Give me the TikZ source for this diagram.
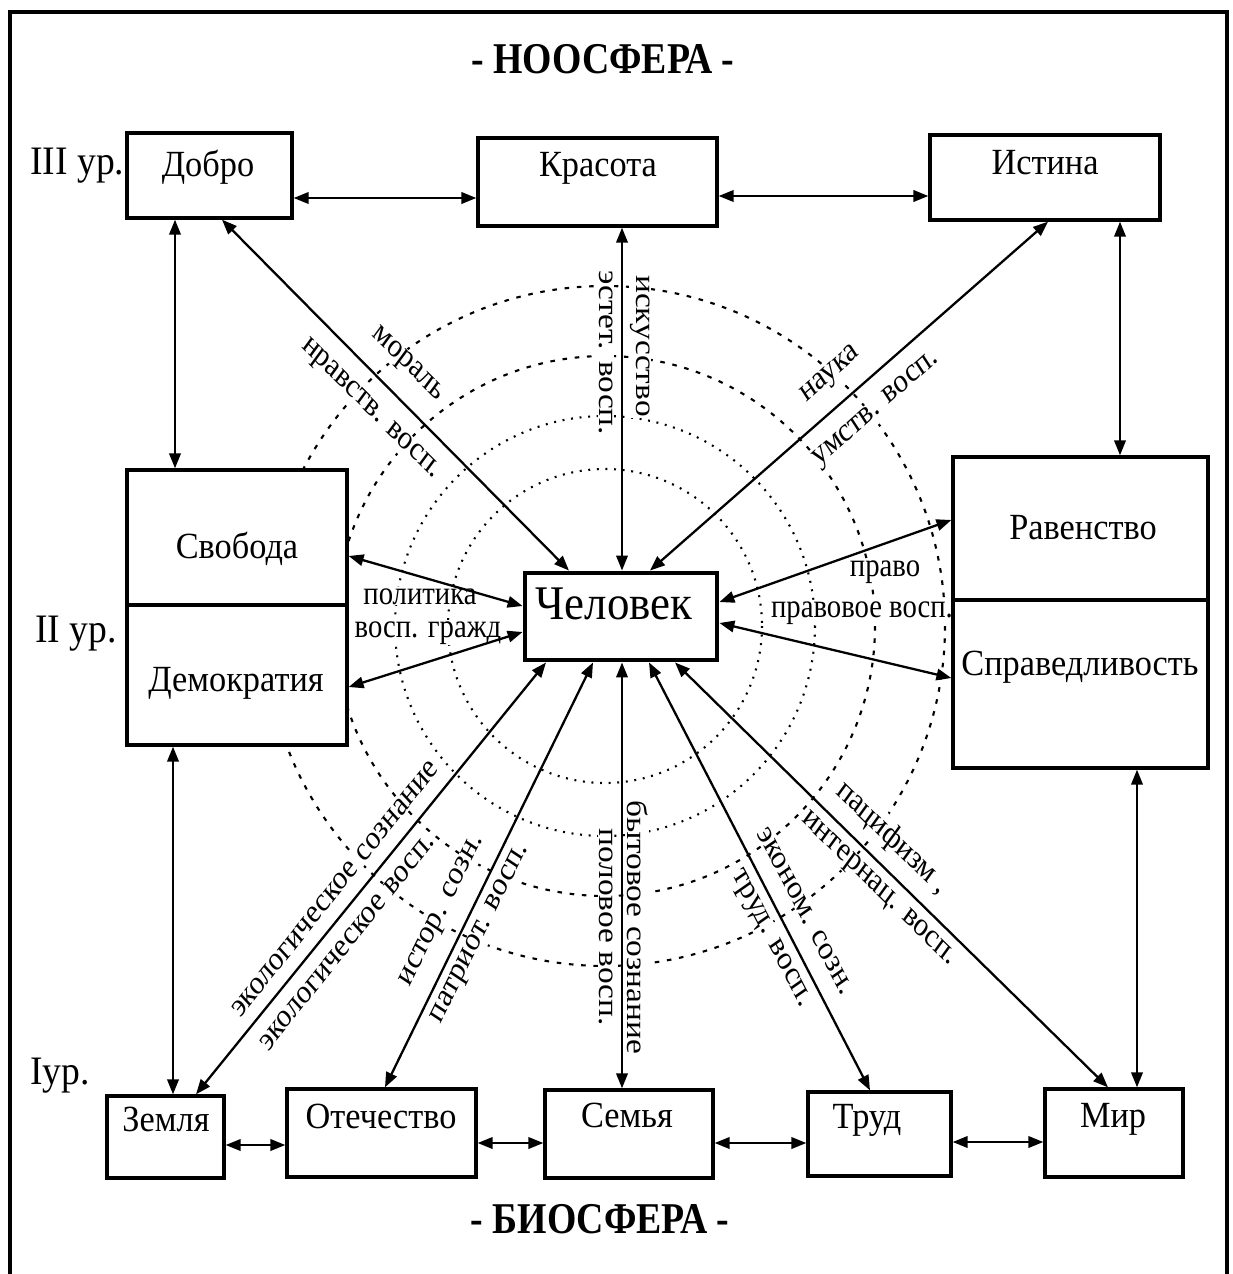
\documentclass[tikz,border=0pt]{standalone}
\usepackage{fontspec}
\setmainfont{Liberation Serif}
\usetikzlibrary{arrows.meta}
\begin{document}
\begin{tikzpicture}[x=0.02cm,y=-0.02cm,
  box/.style={draw, line width=1.9pt, fill=white, inner sep=0pt},
  txt/.style={xscale=0.93, inner sep=0pt, anchor=mid, font=\fontsize{21}{25}\selectfont},
  lbl/.style={xscale=0.86, inner sep=0.5pt, fill=white, font=\fontsize{19}{22}\selectfont},
  lvl/.style={xscale=0.93, inner sep=0pt, anchor=mid west, font=\fontsize{23}{27}\selectfont},
  ttl/.style={xscale=0.86, inner sep=0pt, anchor=base, font=\bfseries\fontsize{25}{30}\selectfont},
  con/.style={line width=1.3pt, {Triangle[length=8.5pt,width=6.5pt]}-{Triangle[length=8.5pt,width=6.5pt]}},
  ringdot/.style={line width=1.2pt, dash pattern=on 1.1pt off 3.8pt},
  ringdash/.style={line width=1.2pt, dash pattern=on 2.6pt off 4.4pt}
]
\useasboundingbox (0,0) rectangle (1233,1274);
\fill[white] (0,0) rectangle (1233,1274);
% frame
\draw[line width=2pt] (10,1274) -- (10,12) -- (1227,12) -- (1227,1274);

% rings
\draw[ringdot] (605,626) circle[radius=157];
\draw[ringdot] (605,626) circle[radius=210];
\draw[ringdash] (605,626) circle[radius=270];
\draw[ringdash] (605,626) circle[radius=340];

% connector labels (white ground cuts the rings)
\node[lbl, rotate=-40.5] (m1) at (407,365) {мораль};
\node[lbl, rotate=-40.5] (m2) at (370,410) {нравств. восп.};
\node[lbl, rotate=-90] (k1) at (640,346) {искусство};
\node[lbl, rotate=-90] (k2) at (606,353) {эстет. восп.};
\node[lbl, rotate=37.2] (n1) at (831,375) {наука};
\node[lbl, rotate=37.2] (n2) at (877,410) {умств. восп.};
\node[lbl, anchor=mid] (p1) at (420,600) {политика};
\node[lbl, anchor=mid] (p2) at (428,633) {восп. гражд};
\node[lbl, anchor=mid] (r1) at (885,572) {право};
\node[lbl, anchor=mid] (r2) at (862,613) {правовое восп.};
\node[lbl, rotate=47.1] (e1) at (335,889) {экологическое сознание};
\node[lbl, rotate=47.1] (e2) at (347,942) {экологическое восп.};
\node[lbl, rotate=60.2] (o1) at (443,911) {истор. созн.};
\node[lbl, rotate=60.2] (o2) at (481,934) {патриот. восп.};
\node[lbl, rotate=-90] (s1) at (638,927) {бытовое сознание};
\node[lbl, rotate=-90] (s2) at (606,927) {половое восп.};
\node[lbl, rotate=-58.9] (t1) at (805,911) {эконом. созн.};
\node[lbl, rotate=-58.9] (t2) at (770,939) {труд. восп.};
\node[lbl, rotate=-40] (w1) at (892,838) {пацифизм ,};
\node[lbl, rotate=-40] (w2) at (878,890) {интернац. восп.};

% boxes
\node[box, minimum width=3.30cm, minimum height=1.70cm] (dobro) at (209.5,175.5) {};
\node[box, minimum width=4.78cm, minimum height=1.76cm] (krasota) at (597.5,182) {};
\node[box, minimum width=4.60cm, minimum height=1.70cm] (istina) at (1045,177.5) {};
\node[box, minimum width=4.40cm, minimum height=5.50cm] (svob) at (237,607.5) {};
\node[box, minimum width=5.10cm, minimum height=6.22cm] (rav) at (1080.5,612.5) {};
\node[box, line width=2.8pt, minimum width=3.84cm, minimum height=1.74cm] (chel) at (621,616.5) {};
\node[box, minimum width=2.34cm, minimum height=1.64cm] (zem) at (165.5,1137) {};
\node[box, minimum width=3.78cm, minimum height=1.76cm] (otech) at (381.5,1133) {};
\node[box, minimum width=3.36cm, minimum height=1.76cm] (sem) at (629,1134) {};
\node[box, minimum width=2.86cm, minimum height=1.68cm] (trud) at (879.5,1134) {};
\node[box, minimum width=2.76cm, minimum height=1.76cm] (mir) at (1114,1133) {};
% dividers
\draw[line width=1.9pt] (svob.west |- 0,605) -- (svob.east |- 0,605);
\draw[line width=1.9pt] (rav.west |- 0,600) -- (rav.east |- 0,600);

% box texts
\node[txt] (tdobro) at (208,172) {Добро};
\node[txt] (tkrasota) at (598,172) {Красота};
\node[txt] (tistina) at (1045,170) {Истина};
\node[txt] (tsvob) at (237,554) {Свобода};
\node[txt] (tdem) at (236,687) {Демократия};
\node[txt] (trav) at (1083,535) {Равенство};
\node[txt] (tsprav) at (1080,671) {Справедливость};
\node[txt, font=\fontsize{27.5}{32}\selectfont] (tchel) at (614,615) {Человек};
\node[txt] (tzem) at (166,1127) {Земля};
\node[txt] (totech) at (381,1124) {Отечество};
\node[txt] (tsem) at (627,1123) {Семья};
\node[txt] (ttrud) at (867,1124) {Труд};
\node[txt] (tmir) at (1113,1123) {Мир};

% titles and levels
\node[ttl] (noo) at (603,73) {- НООСФЕРА -};
\node[ttl] (bio) at (600,1233) {- БИОСФЕРА -};
\node[lvl] (l3) at (30,170) {III ур.};
\node[lvl] (l2) at (35,638) {II ур.};
\node[lvl] (l1) at (30,1080) {Iур.};

% horizontal connectors
\draw[con] (dobro.east |- 0,198) -- (krasota.west |- 0,198);
\draw[con] (krasota.east |- 0,196) -- (istina.west |- 0,196);
\draw[con] (zem.east |- 0,1145) -- (otech.west |- 0,1145);
\draw[con] (otech.east |- 0,1143) -- (sem.west |- 0,1143);
\draw[con] (sem.east |- 0,1143) -- (trud.west |- 0,1143);
\draw[con] (trud.east |- 0,1142) -- (mir.west |- 0,1142);
% vertical connectors
\draw[con] (dobro.south -| 175,0) -- (svob.north -| 175,0);
\draw[con] (istina.south -| 1120,0) -- (rav.north -| 1120,0);
\draw[con] (svob.south -| 173,0) -- (zem.north -| 173,0);
\draw[con] (rav.south -| 1137,0) -- (mir.north -| 1137,0);
% radial connectors
\draw[con] (dobro.south -| 222,0) -- (chel.north -| 569,0);
\draw[con] (krasota.south -| 622,0) -- (chel.north -| 622,0);
\draw[con] (istina.south -| 1048,0) -- (chel.north -| 650,0);
\draw[con] (svob.east |- 0,556) -- (chel.west |- 0,606);
\draw[con] (svob.east |- 0,687) -- (chel.west |- 0,632);
\draw[con] (rav.west |- 0,520) -- (chel.east |- 0,602);
\draw[con] (rav.west |- 0,678) -- (chel.east |- 0,623);
\draw[con] (zem.north -| 196,0) -- (chel.south -| 546,0);
\draw[con] (otech.north -| 385,0) -- (chel.south -| 593,0);
\draw[con] (sem.north -| 622,0) -- (chel.south -| 622,0);
\draw[con] (trud.north -| 870,0) -- (chel.south -| 649,0);
\draw[con] (mir.north -| 1108,0) -- (chel.south -| 675,0);
\end{tikzpicture}
\end{document}
